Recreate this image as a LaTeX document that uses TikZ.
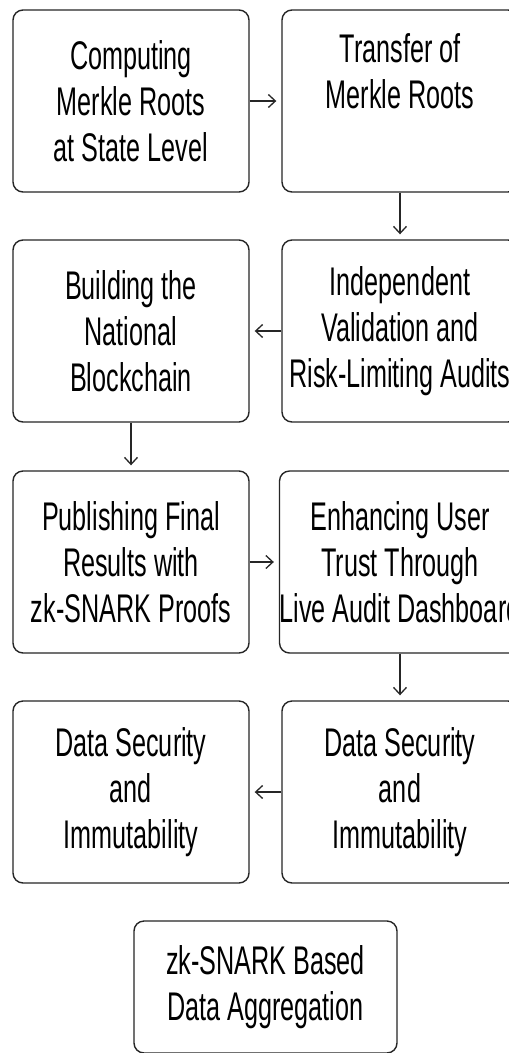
\documentclass[tikz,border=0pt]{standalone}
\usepackage{fontspec}
\setmainfont{Liberation Sans}[FakeStretch=0.63]
\usetikzlibrary{arrows.meta}
\begin{document}
\begin{tikzpicture}[x=1pt,y=-1pt,
  stage/.style={draw=black!85, line width=1.4pt, rounded corners=10pt,
    minimum width=236pt, minimum height=182pt, inner sep=0pt,
    align=center, text=black, font=\fontsize{40}{46}\selectfont},
  flow/.style={draw=black!85, line width=1.3pt,
    -{Straight Barb[length=7pt,width=13pt,line width=1.3pt]}, shorten >=5pt}]
\useasboundingbox (0,0) rectangle (509,1053);
\clip (0,0) rectangle (509,1053);
\fill[white] (0,0) rectangle (509,1053);

% first row
\node[stage] (compute)  at (131,101) {Computing\\Merkle Roots\\at State Level};
\node[stage] (transfer) at (400,101) {Transfer of\\Merkle Roots\\\strut};
% second row
\node[stage] (national) at (131,331) {Building the\\National\\Blockchain};
\node[stage] (validate) at (400,331) {Independent\\Validation and\\Risk-Limiting Audits};
% third row
\node[stage] (publish)  at (131,562) {Publishing Final\\Results with\\zk-SNARK Proofs};
\node[stage] (trust)    at (400,562) {Enhancing User\\Trust Through\\Live Audit Dashboard};
% fourth row
\node[stage] (secureL)  at (131,792) {Data Security\\and\\Immutability};
\node[stage] (secureR)  at (400,792) {Data Security\\and\\Immutability};
% standalone box at the bottom
\node[stage, minimum width=263pt, minimum height=132pt] (aggregate) at (265.5,987)
  {zk-SNARK Based\\Data Aggregation};

% connectors
\draw[flow] (compute)  -- (transfer);
\draw[flow] (transfer) -- (validate);
\draw[flow] (validate) -- (national);
\draw[flow] (national) -- (publish);
\draw[flow] (publish)  -- (trust);
\draw[flow] (trust)    -- (secureR);
\draw[flow] (secureR)  -- (secureL);
\end{tikzpicture}
\end{document}
